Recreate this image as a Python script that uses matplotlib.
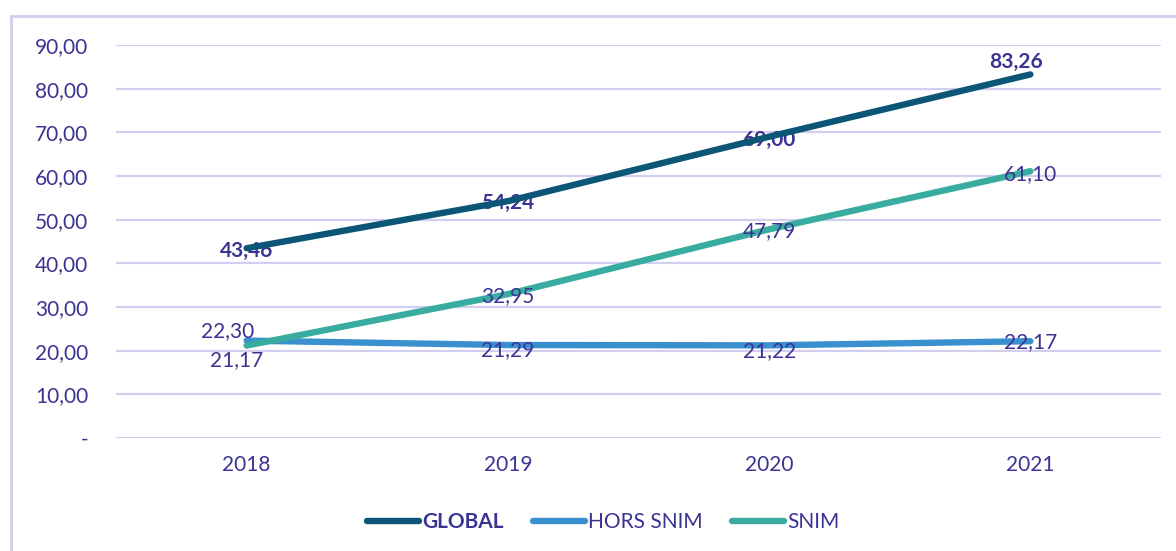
import matplotlib.pyplot as plt
from matplotlib.lines import Line2D

plt.rcParams['font.family'] = ['Lato', 'DejaVu Sans']

years = ["2018", "2019", "2020", "2021"]
global_vals = [43.46, 54.24, 69.00, 83.26]
hors_snim = [22.30, 21.29, 21.22, 22.17]
snim = [21.17, 32.95, 47.79, 61.10]
yticks = [0, 10, 20, 30, 40, 50, 60, 70, 80, 90]

c_global = "#0B5577"
c_hors = "#3A90CE"
c_snim = "#37AC9F"
c_text = "#3B3393"
c_grid = "#D2CEF0"


def fr(v):
    return f"{v:.2f}".replace(".", ",")


fig = plt.figure(figsize=(11.76, 5.51), dpi=100)
ax = fig.add_axes([116 / 1176, 1 - 438 / 551, 1045 / 1176, 393 / 551])

x = [i + 0.5 for i in range(len(years))]
ax.plot(x, global_vals, color=c_global, lw=4.6, solid_capstyle="round", zorder=3)
ax.plot(x, hors_snim, color=c_hors, lw=4.6, solid_capstyle="round", zorder=3)
ax.plot(x, snim, color=c_snim, lw=4.6, solid_capstyle="round", zorder=3)

# offsets des etiquettes (pixels)
off_global = [(0, -3), (0, -2), (0, -3), (-14, 12)]
off_hors = [(-19, 10), (0, -5), (0, -6), (0, -1)]
off_snim = [(-10, -15), (0, -2), (0, -2), (0, -3)]

for xi, v, o in zip(x, global_vals, off_global):
    ax.annotate(fr(v), (xi, v), xytext=o, textcoords="offset pixels",
                ha="center", va="center", fontsize=15, fontweight="bold",
                color=c_text, zorder=2)
for xi, v, o in zip(x, hors_snim, off_hors):
    ax.annotate(fr(v), (xi, v), xytext=o, textcoords="offset pixels",
                ha="center", va="center", fontsize=15, color=c_text, zorder=4)
for xi, v, o in zip(x, snim, off_snim):
    ax.annotate(fr(v), (xi, v), xytext=o, textcoords="offset pixels",
                ha="center", va="center", fontsize=15, color=c_text, zorder=4)

ax.set_xlim(0, 4)
ax.set_ylim(0, 90)
ax.set_xticks(x)
ax.set_xticklabels(years)
ax.set_yticks(yticks)
ax.set_yticklabels(["-" if t == 0 else fr(t) for t in yticks])
ax.tick_params(length=0, labelsize=15, labelcolor=c_text)
ax.tick_params(axis="y", pad=20)
ax.tick_params(axis="x", pad=12)
ax.grid(axis="y", color=c_grid, lw=1.6)
ax.set_axisbelow(True)
for s in ax.spines.values():
    s.set_visible(False)

handles = [Line2D([], [], color=c, lw=4.6, solid_capstyle="round")
           for c in (c_global, c_hors, c_snim)]
leg = fig.legend(handles, ["GLOBAL", "HORS SNIM", "SNIM"], loc="center",
                 bbox_to_anchor=(603 / 1176, 1 - 522 / 551), ncol=3,
                 frameon=False, fontsize=15, handlelength=2.5,
                 handletextpad=0.15, columnspacing=1.4)
for t in leg.get_texts():
    t.set_color(c_text)
leg.get_texts()[0].set_fontweight("bold")

# cadre
fig.add_artist(Line2D([11 / 1176, 1], [1 - 16 / 551] * 2, color=c_grid, lw=2))
fig.add_artist(Line2D([11 / 1176] * 2, [0, 1 - 16 / 551], color=c_grid, lw=2))

fig.savefig("out.png", dpi=100)
